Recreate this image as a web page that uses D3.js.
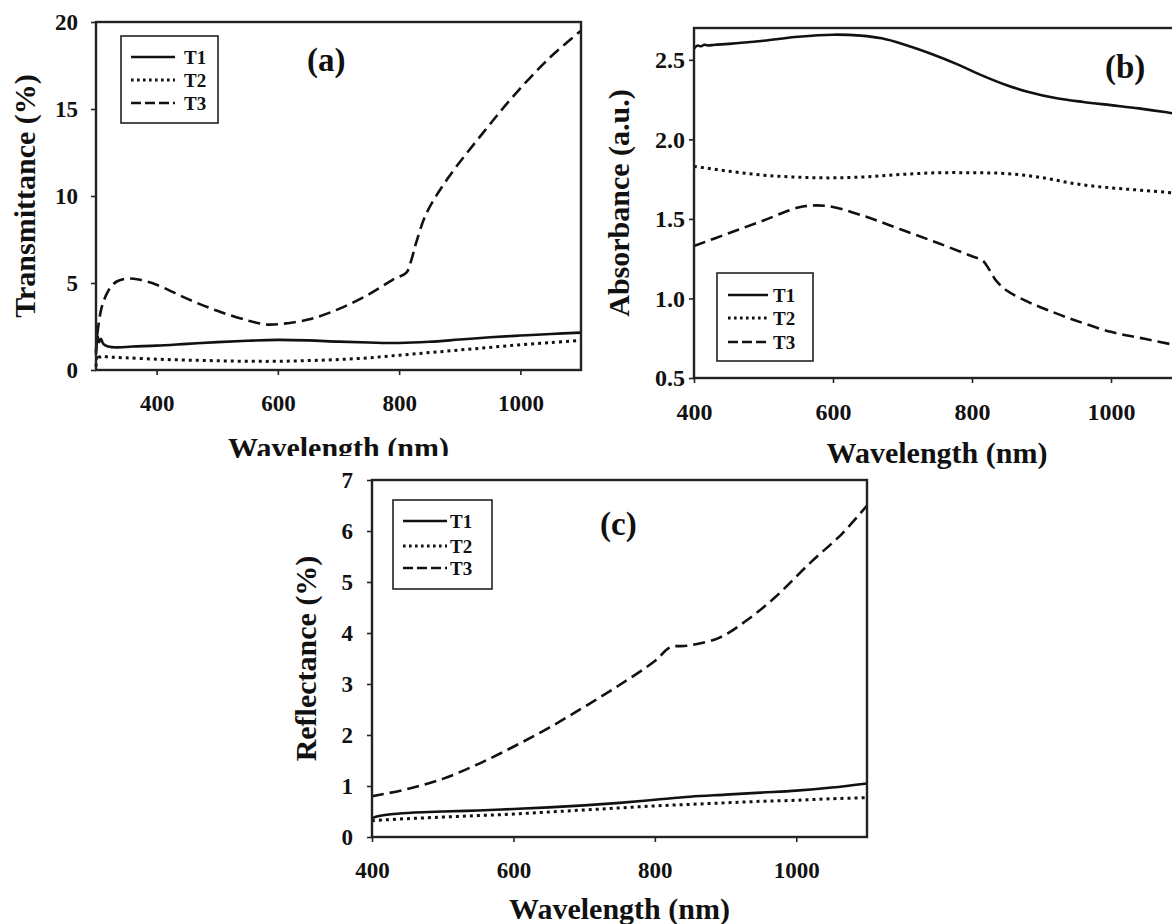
<!DOCTYPE html>
<html>
<head>
<meta charset="utf-8">
<script src="https://cdn.jsdelivr.net/npm/d3@7"></script>
<style>
  html, body { margin: 0; padding: 0; background: #fff; }
  svg { display: block; }
  text { font-family: "Liberation Serif", "Times New Roman", serif; font-weight: bold; fill: #111; }
</style>
</head>
<body>
<svg id="chart" width="1172" height="924"></svg>
<script>
// ---------------- DATA ----------------
const seriesNames = ["T1", "T2", "T3"];
const xTicks = [400, 600, 800, 1000];

// (a) Transmittance (%)
const aTicksY = [0, 5, 10, 15, 20];
const aT1_wl = [300, 302, 305, 308, 312, 320, 335, 360, 400, 450, 500, 550, 600, 650, 700, 750, 800, 850, 900, 950, 1000, 1050, 1100];
const aT1 = [0.9, 2.0, 1.6, 1.8, 1.5, 1.35, 1.3, 1.35, 1.4, 1.5, 1.6, 1.68, 1.73, 1.7, 1.63, 1.58, 1.55, 1.62, 1.75, 1.88, 1.98, 2.07, 2.15];
const aT2_wl = [300, 303, 306, 310, 320, 350, 400, 450, 500, 550, 600, 650, 700, 750, 800, 850, 900, 950, 1000, 1050, 1100];
const aT2 = [0.2, 0.9, 0.75, 0.8, 0.75, 0.7, 0.62, 0.57, 0.53, 0.5, 0.5, 0.54, 0.6, 0.7, 0.85, 1.0, 1.15, 1.3, 1.45, 1.58, 1.7];
const aT3_wl = [300, 302, 305, 308, 312, 318, 325, 335, 350, 370, 400, 450, 500, 550, 580, 600, 650, 700, 750, 790, 812, 820, 828, 845, 880, 940, 990, 1050, 1100];
const aT3 = [1.0, 2.0, 2.8, 3.4, 3.9, 4.4, 4.8, 5.1, 5.25, 5.2, 4.9, 4.1, 3.4, 2.85, 2.62, 2.63, 2.9, 3.5, 4.35, 5.2, 5.6, 6.3, 7.3, 9.0, 11.0, 13.7, 15.8, 18.0, 19.5];

// (b) Absorbance (a.u.)
const bTicksY = [0.5, 1.0, 1.5, 2.0, 2.5];
const bT1_wl = [400, 405, 410, 415, 420, 430, 450, 500, 550, 600, 640, 670, 700, 740, 780, 810, 850, 880, 920, 960, 1000, 1040, 1080, 1100];
const bT1 = [2.57, 2.59, 2.585, 2.595, 2.59, 2.595, 2.60, 2.62, 2.645, 2.658, 2.652, 2.635, 2.6, 2.54, 2.47, 2.41, 2.34, 2.30, 2.26, 2.235, 2.215, 2.195, 2.17, 2.155];
const bT2_wl = [400, 450, 500, 550, 600, 650, 700, 750, 800, 850, 900, 950, 1000, 1050, 1100];
const bT2 = [1.83, 1.80, 1.775, 1.762, 1.758, 1.765, 1.78, 1.79, 1.79, 1.785, 1.76, 1.72, 1.695, 1.678, 1.66];
const bT3_wl = [400, 450, 500, 550, 575, 600, 650, 700, 750, 800, 815, 825, 835, 850, 880, 910, 950, 1000, 1050, 1100];
const bT3 = [1.33, 1.41, 1.49, 1.572, 1.585, 1.575, 1.51, 1.43, 1.35, 1.265, 1.24, 1.18, 1.11, 1.05, 0.98, 0.925, 0.86, 0.79, 0.745, 0.70];

// (c) Reflectance (%)
const cTicksY = [0, 1, 2, 3, 4, 5, 6, 7];
const cT1_wl = [400, 410, 430, 460, 500, 550, 600, 650, 700, 750, 800, 850, 900, 950, 1000, 1050, 1100];
const cT1 = [0.37, 0.41, 0.45, 0.48, 0.5, 0.52, 0.55, 0.58, 0.62, 0.67, 0.73, 0.79, 0.83, 0.87, 0.91, 0.97, 1.05];
const cT2_wl = [400, 450, 500, 550, 600, 650, 700, 750, 800, 850, 900, 950, 1000, 1050, 1100];
const cT2 = [0.32, 0.36, 0.39, 0.42, 0.45, 0.49, 0.53, 0.57, 0.61, 0.64, 0.67, 0.70, 0.72, 0.75, 0.77];
const cT3_wl = [400, 450, 500, 550, 600, 650, 700, 750, 800, 822, 845, 890, 930, 970, 1020, 1065, 1100];
const cT3 = [0.8, 0.94, 1.14, 1.43, 1.77, 2.14, 2.55, 2.98, 3.45, 3.72, 3.75, 3.9, 4.25, 4.7, 5.38, 5.95, 6.5];

// ---------------- STYLES ----------------
const dashes = { T1: null, T2: "3,4", T3: "12,6" };

const svg = d3.select("#chart");

function zip(xs, ys) { return xs.map((x, i) => [x, ys[i]]); }

function drawPanel(cfg) {
  const g = svg.append("g");
  const x = d3.scaleLinear().domain(cfg.xDomain).range([cfg.left, cfg.right]);
  const y = d3.scaleLinear().domain(cfg.yDomain).range([cfg.bottom, cfg.top]);

  // series
  const line = d3.line().x(d => x(d[0])).y(d => y(d[1])).curve(d3.curveCatmullRom.alpha(0.5));
  cfg.series.forEach((s, i) => {
    g.append("path")
      .attr("d", line(zip(s.wl, s.v)))
      .attr("fill", "none")
      .attr("stroke", "#111")
      .attr("stroke-width", seriesNames[i] === "T2" ? 3 : 2.6)
      .attr("stroke-dasharray", dashes[seriesNames[i]]);
  });

  // frame
  g.append("rect")
    .attr("x", cfg.left).attr("y", cfg.top)
    .attr("width", cfg.right - cfg.left).attr("height", cfg.bottom - cfg.top)
    .attr("fill", "none").attr("stroke", "#222").attr("stroke-width", 2.4);

  // axes
  const yAxis = d3.axisLeft(y).tickValues(cfg.yTicks).tickSize(5).tickPadding(cfg.yPad).tickFormat(cfg.yFmt);
  const ya = g.append("g").attr("transform", `translate(${cfg.left},0)`).call(yAxis);
  const xAxis = d3.axisBottom(x).tickValues(xTicks).tickSize(5).tickPadding(20).tickFormat(d3.format("d"));
  const xa = g.append("g").attr("transform", `translate(0,${cfg.bottom})`).call(xAxis);
  [ya, xa].forEach(a => {
    a.select(".domain").remove();
    a.selectAll(".tick line").attr("stroke", "#222").attr("stroke-width", 1.6);
    a.selectAll(".tick text").style("font-size", cfg.tickFont + "px").style("font-family", "'Liberation Serif', serif").style("font-weight", "bold").attr("fill", "#111");
  });

  // axis titles
  g.append("text")
    .attr("transform", `translate(${cfg.yTitleX},${(cfg.top + cfg.bottom) / 2}) rotate(-90)`)
    .attr("text-anchor", "middle")
    .style("font-size", "30px")
    .text(cfg.yTitle);
  g.append("text")
    .attr("x", (cfg.left + Math.min(cfg.right, 1180)) / 2)
    .attr("y", cfg.xTitleY)
    .attr("text-anchor", "middle")
    .style("font-size", "30px")
    .text("Wavelength (nm)");

  // panel label
  g.append("text")
    .attr("x", cfg.labelX).attr("y", cfg.labelY)
    .style("font-size", "33px")
    .text(cfg.label);

  // legend
  const L = cfg.legend;
  g.append("rect")
    .attr("x", L.x0).attr("y", L.y0).attr("width", L.x1 - L.x0).attr("height", L.y1 - L.y0)
    .attr("fill", "#fff").attr("stroke", "#222").attr("stroke-width", 1.6);
  seriesNames.forEach((n, i) => {
    const yy = L.rows[i];
    g.append("line")
      .attr("x1", L.lx0).attr("x2", L.lx1).attr("y1", yy).attr("y2", yy)
      .attr("stroke", "#111").attr("stroke-width", n === "T2" ? 3 : 2.5)
      .attr("stroke-dasharray", n === "T2" ? "2.6,3.4" : (n === "T3" ? "10,4,10,4,10,4,2,4" : null));
    g.append("text")
      .attr("x", L.tx).attr("y", yy + 6.5)
      .style("font-size", "19px")
      .text(n);
  });
}

// (a)
drawPanel({
  left: 96, right: 581, top: 22, bottom: 370,
  xDomain: [300, 1100], yDomain: [0, 20], yTicks: aTicksY, yFmt: d3.format("d"), yPad: 13, tickFont: 23,
  series: [{ wl: aT1_wl, v: aT1 }, { wl: aT2_wl, v: aT2 }, { wl: aT3_wl, v: aT3 }],
  yTitle: "Transmittance (%)", yTitleX: 35, xTitleY: 458,
  label: "(a)", labelX: 307, labelY: 71,
  legend: { x0: 121, y0: 36, x1: 218, y1: 123, rows: [57, 80, 103], lx0: 131, lx1: 175, tx: 184 }
});

// (b)
drawPanel({
  left: 694, right: 1180.5, top: 28, bottom: 378,
  xDomain: [400, 1100], yDomain: [0.5, 2.7], yTicks: bTicksY, yFmt: d3.format(".1f"), yPad: 4, tickFont: 24,
  series: [{ wl: bT1_wl, v: bT1 }, { wl: bT2_wl, v: bT2 }, { wl: bT3_wl, v: bT3 }],
  yTitle: "Absorbance (a.u.)", yTitleX: 629, xTitleY: 463,
  label: "(b)", labelX: 1105, labelY: 78,
  legend: { x0: 717, y0: 273, x1: 813, y1: 361, rows: [295, 318, 342], lx0: 728, lx1: 768, tx: 773 }
});

// white backdrop of panel (c), overlapping the bottom of (a)'s x title
svg.append("rect").attr("x", 240).attr("y", 456).attr("width", 575).attr("height", 468).attr("fill", "#fff");

// (c)
drawPanel({
  left: 372, right: 867, top: 480, bottom: 837,
  xDomain: [400, 1100], yDomain: [0, 7], yTicks: cTicksY, yFmt: d3.format("d"), yPad: 14, tickFont: 23,
  series: [{ wl: cT1_wl, v: cT1 }, { wl: cT2_wl, v: cT2 }, { wl: cT3_wl, v: cT3 }],
  yTitle: "Reflectance (%)", yTitleX: 316, xTitleY: 919,
  label: "(c)", labelX: 600, labelY: 535,
  legend: { x0: 393, y0: 500, x1: 492, y1: 589, rows: [521, 546, 568], lx0: 403, lx1: 447, tx: 450 }
});
</script>
</body>
</html>
